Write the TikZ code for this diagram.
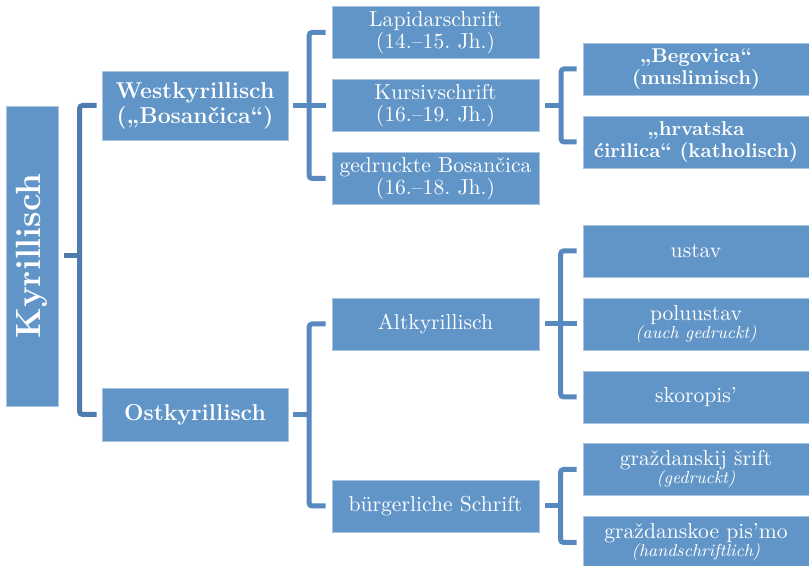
\documentclass[tikz,border=0pt]{standalone}
\usepackage{fontspec}
\definecolor{boxblue}{RGB}{97,149,200}
\definecolor{barblue}{RGB}{88,137,190}
\definecolor{rootbar}{RGB}{79,124,173}
\newcommand{\subnote}[1]{\\[-1.8pt]{\fontsize{8.7}{9}\selectfont\itshape #1}}
\frenchspacing
\begin{document}
\begin{tikzpicture}[x=0.5pt,y=0.5pt,node distance=36.5pt,
        box/.style={fill=boxblue,draw=boxblue!55!white,line width=0.4pt,text=white,align=center,inner sep=1pt},
        rootbox/.style={box,rotate=90,minimum width=150pt,minimum height=26pt,font=\fontsize{17.5}{20}\selectfont\bfseries},
        headbox/.style={box,minimum width=93pt,minimum height=26.5pt,font=\fontsize{11.5}{12.5}\selectfont\bfseries},
        midbox/.style={box,minimum width=103.5pt,minimum height=26pt,font=\fontsize{10.8}{10.8}\selectfont},
        leafbox/.style={box,minimum width=113pt,minimum height=26pt,font=\fontsize{10.8}{10.8}\selectfont},
        boldleaf/.style={font=\fontsize{10}{10.8}\selectfont\bfseries},
        bar/.style={draw=barblue,line width=2.5pt,rounded corners=1.5pt}]
                \useasboundingbox (0,0) rectangle (809,566);

                \node[rootbox] (kyr) at (32,310) {Kyrillisch};
                \node[headbox,minimum height=34.5pt] (west) at (195,460.5) {Westkyrillisch\\(„Bosančica“)};
                \node[headbox] (ost) at (195,151.5) {Ostkyrillisch};

                \node[midbox] (kursiv) at (435.5,460.5) {Kursivschrift\\(16.–19. Jh.)};
                \node[midbox] (lapid) [above of=kursiv] {Lapidarschrift\\(14.–15. Jh.)};
                \node[midbox] (gedr) [below of=kursiv] {gedruckte Bosančica\\(16.–18. Jh.)};

                \node[leafbox,boldleaf] (begov) at (696,497) {„Begovica“\\(muslimisch)};
                \node[leafbox,boldleaf] (hrvat) [below of=begov] {„hrvatska\\ćirilica“ (katholisch)};

                \node[midbox] (altk) at (435.5,242) {Altkyrillisch};
                \node[midbox] (buerg) at (435.5,60) {bürgerliche Schrift};

                \node[leafbox] (polu) at (696,242) {poluustav\subnote{(auch gedruckt)}};
                \node[leafbox] (ustav) [above of=polu] {ustav};
                \node[leafbox] (skoro) [below of=polu] {skoropis’};
                \node[leafbox] (grazs) at (696,96.5) {graždanskij šrift\subnote{(gedruckt)}};
                \node[leafbox] (grazp) [below of=grazs] {graždanskoe pis’mo\subnote{(handschriftlich)}};

                \draw[bar,draw=rootbar] ([xshift=3pt]kyr.south) -- ([xshift=-11pt]west.west |- kyr.south);
                \draw[bar,draw=rootbar] ([xshift=-2.5pt]west.west) -| ([xshift=-11pt]ost.west) -- ([xshift=-2.5pt]ost.west);

                \draw[bar] ([xshift=2.5pt]west.east) -- ([xshift=-3pt]kursiv.west);
                \draw[bar] ([xshift=-3pt]lapid.west) -| ([xshift=-11.25pt]gedr.west) -- ([xshift=-3pt]gedr.west);

                \draw[bar] ([xshift=3pt]kursiv.east) -- ([xshift=-10.75pt]begov.west |- kursiv.east);
                \draw[bar] ([xshift=-3pt]begov.west) -| ([xshift=-10.75pt]hrvat.west) -- ([xshift=-3pt]hrvat.west);

                \draw[bar] ([xshift=2.5pt]ost.east) -- ([xshift=-11.25pt]altk.west |- ost.east);
                \draw[bar] ([xshift=-3pt]altk.west) -| ([xshift=-11.25pt]buerg.west) -- ([xshift=-3pt]buerg.west);

                \draw[bar] ([xshift=3pt]altk.east) -- ([xshift=-3pt]polu.west);
                \draw[bar] ([xshift=-3pt]ustav.west) -| ([xshift=-11pt]skoro.west) -- ([xshift=-3pt]skoro.west);

                \draw[bar] ([xshift=3pt]buerg.east) -- ([xshift=-11pt]grazs.west |- buerg.east);
                \draw[bar] ([xshift=-3pt]grazs.west) -| ([xshift=-11pt]grazp.west) -- ([xshift=-3pt]grazp.west);
			\end{tikzpicture}
\end{document}
